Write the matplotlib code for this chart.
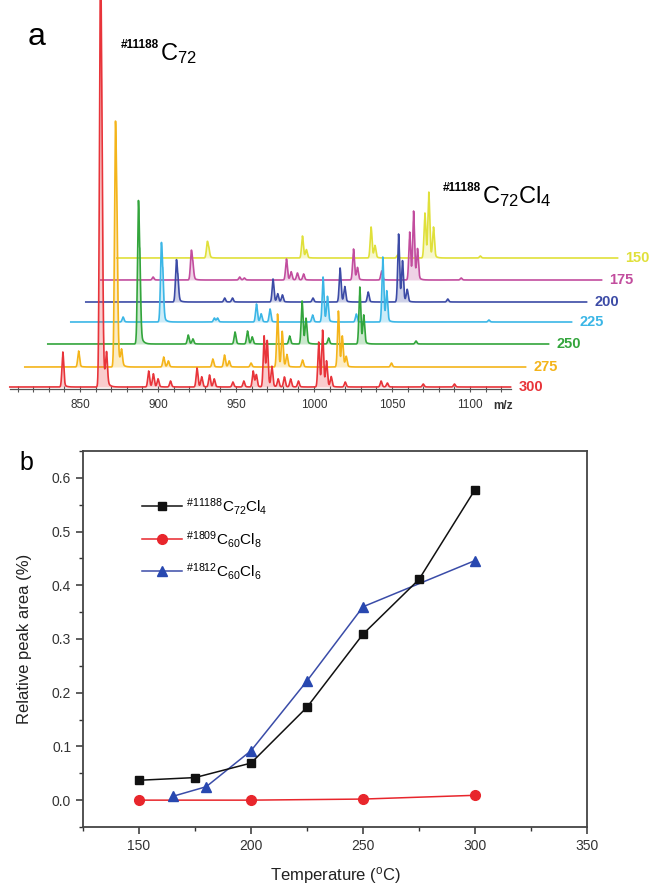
import numpy as np
import matplotlib
matplotlib.use('Agg')
import matplotlib.pyplot as plt
from matplotlib.ticker import FixedLocator, MultipleLocator, FormatStrFormatter

plt.rcParams['font.family'] = ['Liberation Sans', 'DejaVu Sans']
plt.rcParams['mathtext.fontset'] = 'custom'
plt.rcParams['mathtext.rm'] = 'Liberation Sans'
plt.rcParams['mathtext.it'] = 'Liberation Sans:italic'
plt.rcParams['mathtext.bf'] = 'Liberation Sans:bold'
plt.rcParams['mathtext.default'] = 'regular'

W, H = 651, 886

# ---------------- panel a data: peak lists (m/z, relative height) ----------------
temps_a = ['300', '275', '250', '225', '200', '175', '150']

mz_300 = [839, 863, 864, 867, 894, 897, 900, 908, 925, 928, 933, 936, 948, 955, 961, 963,
          968, 970, 973, 977, 981, 985, 990, 1003, 1005.5, 1008, 1011, 1020, 1043, 1047, 1070, 1090]
h_300 = [35, 390, 200, 30, 16, 13, 8, 6, 19, 10, 12, 8, 5, 6, 16, 12,
         51, 45, 20, 8, 10, 8, 6, 45, 56, 25, 10, 5, 6, 4, 3, 3]

mz_275 = [839.5, 863, 864, 867, 894, 897, 925.5, 933, 936, 950, 967, 970, 973, 983, 1006, 1008.5, 1011, 1040]
h_275 = [16, 216, 120, 15, 10, 6, 8, 12, 6, 4, 53, 35, 12, 7, 56, 30, 10, 4]

mz_250 = [863, 864, 895, 898, 925, 933, 936, 960, 968, 970.5, 985, 1005, 1007.5, 1041]
h_250 = [129, 60, 9, 5, 12, 13, 7, 8, 43, 25, 6, 57, 28, 3]

mz_225 = [838.5, 863, 864, 897, 899, 924, 927, 932.7, 960, 966.7, 969.5, 988, 1005, 1007.5, 1073]
h_225 = [5, 71, 35, 4, 4, 18, 8, 13, 7, 45, 25, 8, 65, 30, 2]

mz_200 = [863, 864, 894, 899, 925, 928, 931, 950.6, 968, 971, 986, 1005.5, 1008, 1011, 1037]
h_200 = [38, 18, 4, 4, 23, 8, 7, 4, 34, 15, 10, 68, 40, 12, 3]

mz_175 = [838.5, 863, 864, 894, 897, 924, 927, 931, 935, 967, 969.5, 985, 1003, 1005.5, 1008, 1036]
h_175 = [3, 27, 12, 3, 2, 21, 8, 7, 6, 31, 12, 9, 48, 68, 30, 2]

mz_150 = [863, 864, 924, 926.5, 968, 970.5, 985, 1002.5, 1005, 1008, 1038]
h_150 = [15, 7, 22, 8, 31, 12, 3, 45, 65, 30, 2]

peaks_mz = [mz_300, mz_275, mz_250, mz_225, mz_200, mz_175, mz_150]
peaks_h = [h_300, h_275, h_250, h_225, h_200, h_175, h_150]

# ---------------- panel b data ----------------
temp_c72cl4 = [150, 175, 200, 225, 250, 275, 300]
area_c72cl4 = [0.037, 0.042, 0.069, 0.173, 0.309, 0.411, 0.578]
temp_c60cl8 = [150, 200, 250, 300]
area_c60cl8 = [0.000, 0.000, 0.002, 0.009]
temp_c60cl6 = [165, 180, 200, 225, 250, 300]
area_c60cl6 = [0.007, 0.025, 0.092, 0.222, 0.360, 0.446]

# ---------------- styling / layout ----------------
colors_a = ['#e8343a', '#f4b41a', '#33a53c', '#3bb6e6', '#3c4ba6', '#c24d9e', '#e0e03a']
PX_PER_MZ = 1.56
shift_px = [0, 15, 38, 61, 76, 91, 107]
lift_px = [0, 20, 43, 65, 85, 107, 129]
MZ_LO, MZ_HI = 805, 1126

fig = plt.figure(figsize=(W / 100, H / 100), dpi=100)

# panel a axes spanning full width; y in pixel-like intensity units
base_py = 389
axa = fig.add_axes([0, 1 - base_py / H, 1, base_py / H])
xmin = 850 - 80 / PX_PER_MZ
xmax = 850 + (W - 80) / PX_PER_MZ
axa.set_xlim(xmin, xmax)
axa.set_ylim(-2, base_py - 2)
axa.patch.set_alpha(0)

x_local = np.arange(MZ_LO, MZ_HI + 0.01, 0.1)


def profile(mzs, hs):
    y = np.zeros_like(x_local)
    for m, h in zip(mzs, hs):
        d = x_local - m
        y += 0.88 * h * np.exp(-0.5 * (d / 0.6) ** 2)
        y += 0.12 * h * np.exp(-np.clip(d, 0, None) / 1.4) * (d > 0)
    return y


for i in range(len(temps_a) - 1, -1, -1):
    dx = shift_px[i] / PX_PER_MZ
    dy = lift_px[i]
    y = profile(peaks_mz[i], peaks_h[i])
    axa.fill_between(x_local + dx, dy, y + dy, color=colors_a[i], alpha=0.25, lw=0,
                     zorder=10 - i)
    axa.plot(x_local + dx, y + dy, color=colors_a[i], lw=1.2, zorder=10 - i)
    axa.text(MZ_HI + dx + 5, dy, temps_a[i], color=colors_a[i], fontsize=10.5,
             fontweight='bold', ha='left', va='center', zorder=20)

for s in ['top', 'right', 'left']:
    axa.spines[s].set_visible(False)
axa.spines['bottom'].set_bounds(MZ_LO, MZ_HI)
axa.spines['bottom'].set_color('#555555')
axa.spines['bottom'].set_linewidth(0.9)
axa.yaxis.set_visible(False)
axa.xaxis.set_major_locator(FixedLocator([850, 900, 950, 1000, 1050, 1100]))
axa.xaxis.set_minor_locator(FixedLocator(np.arange(810, 1121, 10)))
axa.tick_params(axis='x', which='both', direction='inout', length=4, width=0.8,
                color='#555555', labelsize=8.5, labelcolor='#333333', pad=5)
axa.text(1121, -13, 'm/z', fontsize=8.5, color='#333333',
         fontweight='bold', ha='center', va='top')

fig.text(37 / W, 1 - 37 / H, 'a', fontsize=23, ha='center', va='center')
fig.text(160 / W, 1 - 60 / H, 'C$_{72}$', fontsize=17, ha='left', va='baseline')
fig.text(159 / W, 1 - 48 / H, '#11188', fontsize=8.5, fontweight='bold', ha='right',
         va='baseline')
fig.text(482 / W, 1 - 203 / H, 'C$_{72}$Cl$_{4}$', fontsize=17, ha='left', va='baseline')
fig.text(481 / W, 1 - 191 / H, '#11188', fontsize=8.5, fontweight='bold', ha='right',
         va='baseline')

# ---------------- panel b ----------------
axb = fig.add_axes([83 / W, 1 - 827 / H, 504 / W, 376 / H])
axb.plot(temp_c72cl4, area_c72cl4, color='#111111', lw=1.1, marker='s', ms=6,
         label=r'$^{\#11188}$C$_{72}$Cl$_{4}$', zorder=3)
axb.plot(temp_c60cl8, area_c60cl8, color='#e8262c', lw=1.1, marker='o', ms=7,
         label=r'$^{\#1809}$C$_{60}$Cl$_{8}$', zorder=2)
axb.plot(temp_c60cl6, area_c60cl6, color='#3a4ca8', lw=1.1, marker='^', ms=7,
         markerfacecolor='#2848b0', markeredgecolor='#2848b0',
         label=r'$^{\#1812}$C$_{60}$Cl$_{6}$', zorder=2)
axb.set_xlim(125, 350)
axb.set_ylim(-0.05, 0.65)
axb.xaxis.set_major_locator(MultipleLocator(50))
axb.xaxis.set_minor_locator(MultipleLocator(25))
axb.yaxis.set_major_locator(MultipleLocator(0.1))
axb.yaxis.set_minor_locator(MultipleLocator(0.05))
axb.yaxis.set_major_formatter(FormatStrFormatter('%.1f'))
axb.tick_params(which='major', direction='out', length=5, width=1.1, labelsize=10,
                color='#333333', labelcolor='#333333')
axb.tick_params(which='minor', direction='out', length=3, width=1.0, color='#333333')
for s in axb.spines.values():
    s.set_linewidth(1.3)
    s.set_color('#444444')
axb.set_xlabel('Temperature ($^{o}$C)', fontsize=12, labelpad=9, color='#222222')
axb.set_ylabel('Relative peak area (%)', fontsize=12, labelpad=14, color='#222222')
axb.legend(loc='upper left', bbox_to_anchor=(0.117, 0.88), frameon=False,
           handlelength=2.6, handletextpad=0.3, labelspacing=0.75, fontsize=11,
           borderpad=0, borderaxespad=0)
fig.text(26 / W, 1 - 463 / H, 'b', fontsize=18, ha='center', va='center')

fig.savefig('out.png', dpi=100)
